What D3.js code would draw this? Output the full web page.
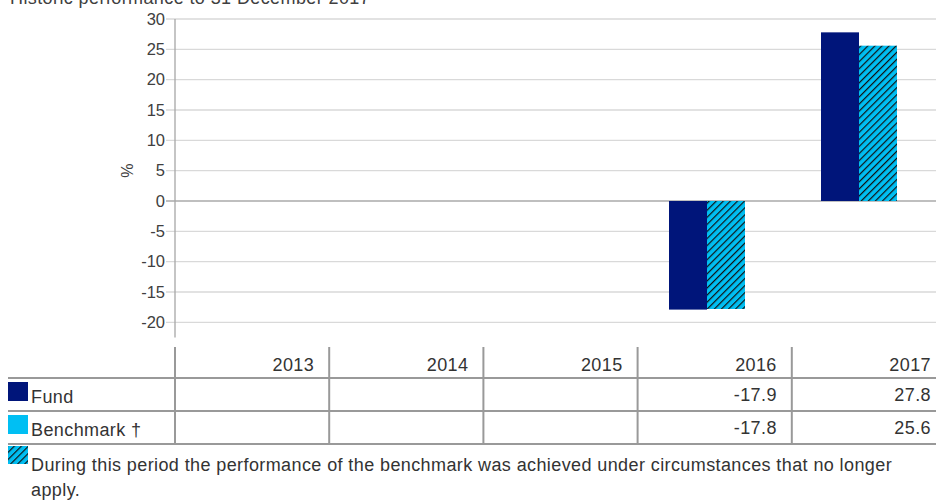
<!DOCTYPE html>
<html>
<head>
<meta charset="utf-8">
<script src="https://cdn.jsdelivr.net/npm/d3@7"></script>
<style>
  body { margin: 0; background: #fff; }
  svg { display: block; font-family: "Liberation Sans", Arial, sans-serif; }
  .txt { font-size: 18px; fill: #333; letter-spacing: 0.4px; }
</style>
</head>
<body>
<div id="chart"></div>
<script>
var years = ["2013", "2014", "2015", "2016", "2017"];
var fund = [null, null, null, -17.9, 27.8];
var benchmark = [null, null, null, -17.8, 25.6];
var yTicks = [-20, -15, -10, -5, 0, 5, 10, 15, 20, 25, 30];
var seriesNames = ["Fund", "Benchmark \u2020"];
var footnote = ["During this period the performance of the benchmark was achieved under circumstances that no longer", "apply."];

var W = 936, H = 501;
var navy = "#00157a", sky = "#00bff3";

var svg = d3.select("#chart").append("svg")
    .attr("width", W)
    .attr("height", H);

// hatch pattern for benchmark bars
var defs = svg.append("defs");
var pat = defs.append("pattern")
    .attr("id", "hatch")
    .attr("patternUnits", "userSpaceOnUse")
    .attr("width", 5)
    .attr("height", 5)
    .attr("patternTransform", "rotate(45)");
pat.append("rect").attr("width", 5).attr("height", 5).attr("fill", sky);
pat.append("line")
    .attr("x1", 0).attr("y1", 0).attr("x2", 0).attr("y2", 5)
    .attr("stroke", "#111").attr("stroke-width", 2.4);

// title (mostly cut off at the top, as in the source)
svg.append("text")
    .attr("class", "txt")
    .attr("x", 10).attr("y", 4)
    .style("fill", "#404040")
    .text("Historic performance to 31 December 2017");

var left = 175;
var y = d3.scaleLinear().domain([-22.5, 30]).range([337.5, 19]);
var x = d3.scaleBand().domain(years).range([left, left + 152 * 5]);
var xs = d3.scaleBand().domain(["fund", "bench"]).range([0, 76]);

// gridlines
svg.append("g").selectAll("line")
    .data(yTicks)
    .join("line")
    .attr("x1", left - 9)
    .attr("x2", W)
    .attr("y1", function(d) { return y(d); })
    .attr("y2", function(d) { return y(d); })
    .attr("stroke", function(d) { return d === 0 ? "#bfbfbf" : "#d9d9d9"; })
    .attr("stroke-width", function(d) { return d === 0 ? 2 : 1.3; });

// y axis
var yAxis = d3.axisLeft(y).tickValues(yTicks).tickSize(0).tickPadding(10)
    .tickFormat(function(d) { return String(d); });
var ga = svg.append("g").attr("transform", "translate(" + left + ",0)").call(yAxis);
ga.select(".domain").remove();
ga.selectAll("text")
    .style("font-size", "16.5px")
    .style("font-family", "Liberation Sans, Arial, sans-serif")
    .style("fill", "#404040");
svg.append("line")
    .attr("x1", left).attr("x2", left)
    .attr("y1", y(30)).attr("y2", y(-22.5))
    .attr("stroke", "#a6a6a6").attr("stroke-width", 1.3);

svg.append("text")
    .attr("transform", "translate(133," + y(5) + ") rotate(-90)")
    .attr("text-anchor", "middle")
    .style("font-size", "16px")
    .style("fill", "#404040")
    .text("%");

// bars
var groups = svg.append("g").selectAll("g")
    .data(years)
    .join("g")
    .attr("transform", function(d) { return "translate(" + (x(d) + x.bandwidth() / 2 - 38) + ",0)"; });

groups.each(function(yr, i) {
    var g = d3.select(this);
    var vals = [["fund", fund[i], navy], ["bench", benchmark[i], "url(#hatch)"]];
    vals.forEach(function(v) {
        if (v[1] === null) return;
        g.append("rect")
            .attr("x", xs(v[0]))
            .attr("width", xs.bandwidth())
            .attr("y", y(Math.max(0, v[1])))
            .attr("height", Math.abs(y(v[1]) - y(0)))
            .attr("fill", v[2]);
    });
});

// data table
var tx = d3.scaleBand().domain(years).range([left, left + 154.2 * 5]);
var rowLines = [378, 411, 444];
var lineCol = "#999";

svg.append("g").selectAll("line")
    .data(rowLines)
    .join("line")
    .attr("x1", 8).attr("x2", W)
    .attr("y1", function(d) { return d; }).attr("y2", function(d) { return d; })
    .attr("stroke", lineCol).attr("stroke-width", 2);

svg.append("g").selectAll("line")
    .data(years)
    .join("line")
    .attr("x1", function(d) { return tx(d); })
    .attr("x2", function(d) { return tx(d); })
    .attr("y1", 347).attr("y2", 444)
    .attr("stroke", lineCol).attr("stroke-width", 2);

svg.append("g").selectAll("text")
    .data(years)
    .join("text")
    .attr("class", "txt")
    .attr("x", function(d) { return tx(d) + tx.bandwidth() - 15; })
    .attr("y", 371)
    .attr("text-anchor", "end")
    .text(function(d) { return d; });

var rows = [
    { name: seriesNames[0], vals: fund, fill: navy, base: 403 },
    { name: seriesNames[1], vals: benchmark, fill: sky, base: 436 }
];
rows.forEach(function(r) {
    svg.append("rect")
        .attr("x", 8).attr("y", r.base - 21)
        .attr("width", 20).attr("height", 19)
        .attr("fill", r.fill);
    svg.append("text")
        .attr("class", "txt")
        .attr("x", 31).attr("y", r.base)
        .text(r.name);
    svg.append("g").selectAll("text")
        .data(years.map(function(yr, i) { return [yr, r.vals[i]]; }).filter(function(d) { return d[1] !== null; }))
        .join("text")
        .attr("class", "txt")
        .attr("x", function(d) { return tx(d[0]) + tx.bandwidth() - 15; })
        .attr("y", r.base - 2)
        .attr("text-anchor", "end")
        .text(function(d) { return d[1].toFixed(1); });
});

// footnote
svg.append("rect")
    .attr("x", 8).attr("y", 446)
    .attr("width", 20).attr("height", 18)
    .attr("fill", "url(#hatch)");
svg.append("g").selectAll("text")
    .data(footnote)
    .join("text")
    .attr("class", "txt")
    .attr("x", 31)
    .attr("y", function(d, i) { return 471 + i * 25; })
    .text(function(d) { return d; });
</script>
</body>
</html>
